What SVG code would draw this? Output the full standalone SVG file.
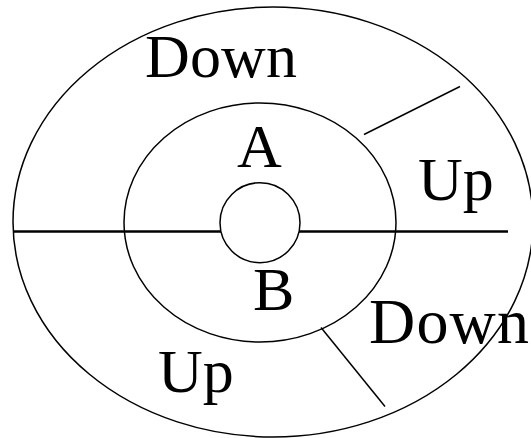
<svg xmlns="http://www.w3.org/2000/svg" width="531" height="438" viewBox="0 0 531 438">
<style>
.sh{fill:none;stroke:#000;stroke-width:1.5}
.ax{fill:none;stroke:#000;stroke-width:2.7}
.lb{font-family:"Liberation Serif","Times New Roman",serif;font-size:62px;fill:#000}
</style>
<rect width="531" height="438" fill="#fff"/>
<g id="outer"><ellipse class="sh" cx="273" cy="222" rx="260" ry="215"/></g>
<g id="middle"><ellipse class="sh" cx="260" cy="222.5" rx="136" ry="119.5"/></g>
<g id="core"><circle class="sh" cx="260" cy="222.7" r="40"/></g>
<g id="connectors">
<line class="ax" x1="13" y1="231.5" x2="221" y2="231.5"/>
<line class="ax" x1="299" y1="231.5" x2="508" y2="231.5"/>
<line class="sh" x1="364" y1="134.5" x2="460" y2="86.5"/>
<line class="sh" x1="321" y1="327.5" x2="385" y2="406.5"/>
</g>
<g id="labels">
<text class="lb" x="145" y="77" textLength="152">Down</text>
<text class="lb" x="237" y="167">A</text>
<text class="lb" x="418" y="200">Up</text>
<text class="lb" x="253" y="310">B</text>
<text class="lb" x="369" y="343" style="font-size:64px" textLength="160">Down</text>
<text class="lb" x="158" y="392">Up</text>
</g>
</svg>
